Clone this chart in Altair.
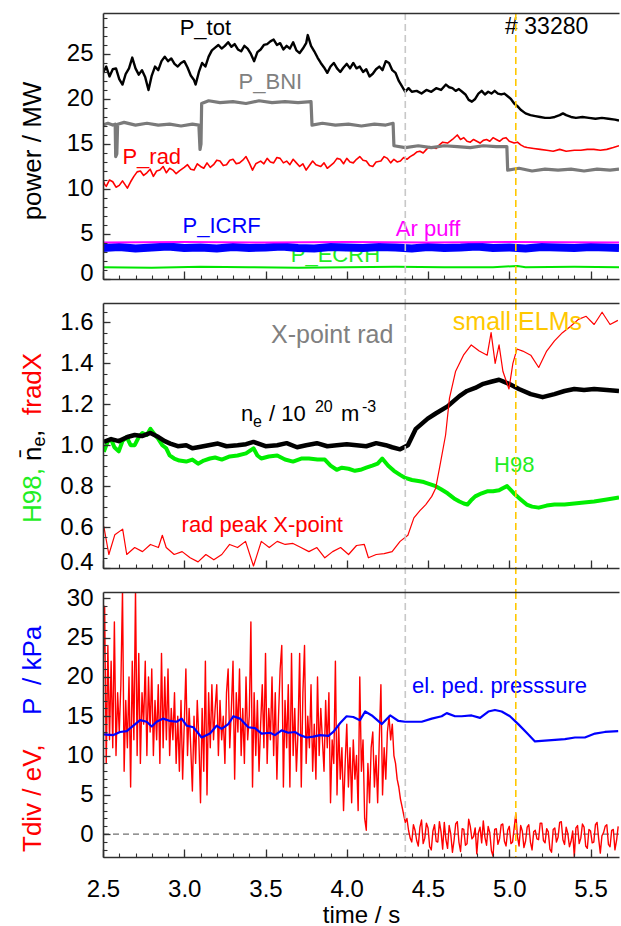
import altair as alt
import pandas as pd

# ---------------- data ----------------
x_domain = [2.5, 5.675]
x_major = [2.5, 3.0, 3.5, 4.0, 4.5, 5.0, 5.5]
x_minor = [2.5, 2.6, 2.7, 2.8, 2.9, 3.0, 3.1, 3.2, 3.3, 3.4, 3.5, 3.6, 3.7, 3.8, 3.9, 4.0,
           4.1, 4.2, 4.3, 4.4, 4.5, 4.6, 4.7, 4.8, 4.9, 5.0, 5.1, 5.2, 5.3, 5.4, 5.5, 5.6]
event_t = [4.36, 5.04]          # X-point rad onset, small ELMs onset

# panel 1: power / MW
p_tot = [(2.50,22.9),(2.52,23.6),(2.54,22.5),(2.56,23.3),(2.58,23.4),(2.60,22.2),(2.62,21.6),(2.64,22.8),
         (2.66,23.4),(2.68,24.6),(2.70,23.4),(2.72,22.7),(2.74,23.2),(2.76,22.4),(2.78,21.0),(2.80,22.6),
         (2.82,23.6),(2.84,23.2),(2.86,24.2),(2.88,24.7),(2.90,24.2),(2.92,24.5),(2.94,23.9),(2.96,23.6),
         (2.98,24.0),(3.00,24.2),(3.02,23.5),(3.04,22.6),(3.06,22.1),(3.07,21.6),(3.09,23.0),(3.11,24.0),
         (3.13,23.6),(3.15,24.7),(3.17,25.4),(3.19,25.7),(3.21,26.0),(3.23,25.6),(3.25,25.9),(3.27,26.3),
         (3.29,25.8),(3.31,26.1),(3.33,25.5),(3.35,25.3),(3.37,25.9),(3.39,25.6),(3.41,25.0),(3.43,24.2),
         (3.45,25.2),(3.47,25.5),(3.49,26.0),(3.51,26.1),(3.53,26.4),(3.55,26.6),(3.57,26.0),(3.59,26.2),
         (3.61,25.5),(3.63,25.9),(3.65,25.6),(3.67,26.3),(3.69,25.4),(3.71,25.1),(3.73,25.6),(3.75,26.2),
         (3.76,27.1),(3.78,25.9),(3.80,25.3),(3.82,24.6),(3.84,24.0),(3.86,23.5),(3.88,22.9),(3.90,23.6),
         (3.92,24.0),(3.94,23.4),(3.96,23.0),(3.98,23.5),(4.00,23.9),(4.02,23.4),(4.04,24.0),(4.06,23.4),
         (4.08,23.6),(4.10,23.0),(4.12,23.3),(4.14,22.5),(4.16,22.8),(4.18,23.3),(4.20,23.6),(4.22,23.2),
         (4.24,24.2),(4.26,24.0),(4.28,23.2),(4.30,22.9),(4.32,22.0),(4.34,21.4),(4.36,20.8),(4.38,21.2),
         (4.40,20.8),(4.43,20.9),(4.46,20.6),(4.49,21.0),(4.52,20.8),(4.55,21.2),(4.58,21.0),(4.61,21.6),
         (4.63,21.3),(4.65,21.2),(4.67,20.9),(4.69,21.1),(4.71,20.8),(4.73,20.5),(4.75,19.9),(4.77,19.7),
         (4.79,20.0),(4.81,20.6),(4.83,20.9),(4.85,20.5),(4.87,20.8),(4.89,20.6),(4.91,20.9),(4.93,20.6),
         (4.95,20.5),(4.97,20.6),(4.99,20.3),(5.01,20.0),(5.03,19.5),(5.05,19.2),(5.07,18.8),(5.10,18.4),
         (5.13,18.2),(5.16,18.1),(5.19,18.0),(5.22,17.9),(5.25,17.9),(5.28,18.0),(5.31,18.2),(5.33,18.4),
         (5.35,18.2),(5.38,18.0),(5.41,17.9),(5.45,18.0),(5.49,17.9),(5.53,17.8),(5.57,17.9),(5.61,17.8),
         (5.65,17.7),(5.675,17.6)]
p_bni = [(2.50,17.1),(2.53,17.3),(2.56,17.1),(2.575,17.2),(2.578,13.6),(2.585,13.9),(2.59,17.2),(2.63,17.4),
         (2.70,17.1),(2.77,17.3),(2.84,17.1),(2.91,17.2),(2.98,17.0),(3.05,17.2),(3.09,17.1),(3.097,14.4),
         (3.103,15.0),(3.107,19.5),(3.15,19.8),(3.22,19.6),(3.30,19.7),(3.38,19.5),(3.46,19.8),(3.54,19.6),
         (3.62,19.7),(3.70,19.6),(3.78,19.7),(3.786,17.1),(3.85,17.3),(3.93,17.1),(4.01,17.2),(4.09,17.0),
         (4.17,17.2),(4.24,17.1),(4.285,17.3),(4.29,14.8),(4.36,14.6),(4.44,14.8),(4.52,14.6),(4.60,14.8),
         (4.68,14.7),(4.76,14.6),(4.84,14.8),(4.92,14.7),(4.985,14.7),(4.99,12.1),(5.06,12.3),(5.14,12.0),
         (5.22,12.2),(5.30,12.1),(5.38,12.2),(5.46,12.0),(5.54,12.2),(5.62,12.1),(5.675,12.2)]
p_rad = [(2.50,11.0),(2.51,10.5),(2.52,10.3),(2.54,11.0),(2.56,10.8),(2.58,10.2),(2.60,10.4),(2.62,10.9),
         (2.65,10.1),(2.67,10.8),(2.69,11.4),(2.71,11.9),(2.73,12.0),(2.75,11.5),(2.77,11.8),(2.79,12.2),
         (2.81,11.4),(2.83,12.0),(2.85,12.1),(2.87,12.5),(2.89,11.8),(2.91,12.3),(2.93,12.1),(2.95,11.7),
         (2.97,12.0),(3.00,12.4),(3.02,12.7),(3.04,12.2),(3.06,12.1),(3.08,12.8),(3.10,12.5),(3.12,12.3),
         (3.14,12.9),(3.16,12.4),(3.18,12.7),(3.20,13.2),(3.22,13.1),(3.24,12.6),(3.26,12.7),(3.28,13.2),
         (3.30,13.3),(3.32,12.8),(3.34,12.9),(3.36,13.2),(3.38,13.6),(3.40,12.9),(3.42,12.1),(3.44,12.8),
         (3.47,13.1),(3.49,12.8),(3.51,13.4),(3.53,13.0),(3.55,12.9),(3.57,13.5),(3.59,13.4),(3.61,12.9),
         (3.63,13.1),(3.65,12.7),(3.67,13.3),(3.69,12.9),(3.71,12.5),(3.73,12.8),(3.75,12.1),(3.77,12.6),
         (3.79,13.1),(3.81,12.7),(3.84,12.5),(3.86,12.9),(3.88,12.3),(3.90,12.6),(3.92,12.9),(3.94,13.4),
         (3.96,13.3),(3.98,12.8),(4.00,13.4),(4.02,13.0),(4.04,12.9),(4.06,13.3),(4.08,13.6),(4.10,13.2),
         (4.12,13.1),(4.14,12.6),(4.16,12.5),(4.18,13.0),(4.21,13.1),(4.23,13.6),(4.25,13.4),(4.27,12.9),
         (4.29,13.3),(4.31,13.0),(4.33,13.1),(4.35,13.5),(4.37,13.3),(4.39,13.6),(4.41,13.8),(4.43,14.1),
         (4.45,14.2),(4.47,14.0),(4.49,14.4),(4.51,14.7),(4.53,14.6),(4.55,14.5),(4.57,14.9),(4.59,15.2),
         (4.62,15.1),(4.65,15.5),(4.68,16.0),(4.70,15.5),(4.72,15.7),(4.74,15.3),(4.76,15.2),(4.78,15.5),
         (4.80,15.3),(4.82,15.1),(4.84,15.4),(4.86,15.5),(4.88,15.3),(4.90,15.7),(4.92,15.5),(4.94,15.3),
         (4.96,15.6),(4.98,15.7),(5.00,15.3),(5.03,15.1),(5.05,15.2),(5.07,14.9),(5.09,14.7),(5.11,14.6),
         (5.15,14.5),(5.19,14.4),(5.23,14.3),(5.27,14.2),(5.31,14.4),(5.35,14.2),(5.40,14.3),(5.44,14.3),
         (5.48,14.4),(5.52,14.4),(5.56,14.3),(5.60,14.4),(5.64,14.6),(5.675,14.8)]
p_icrf = [(2.5,3.45),(2.6,3.55),(2.7,3.4),(2.8,3.5),(2.9,3.6),(3.0,3.45),(3.1,3.5),(3.2,3.4),(3.3,3.55),
          (3.4,3.45),(3.5,3.5),(3.6,3.6),(3.7,3.45),(3.8,3.4),(3.9,3.55),(4.0,3.5),(4.1,3.45),(4.2,3.55),
          (4.3,3.5),(4.4,3.4),(4.5,3.55),(4.6,3.45),(4.7,3.5),(4.8,3.6),(4.9,3.45),(5.0,3.5),(5.1,3.4),
          (5.2,3.55),(5.3,3.5),(5.4,3.45),(5.5,3.55),(5.6,3.5),(5.675,3.45)]
ar_puff = [(2.5,4.05),(3.0,4.1),(3.5,4.05),(4.0,4.1),(4.5,4.05),(5.0,4.1),(5.675,4.05)]
p_ecrh = [(2.5,1.3),(2.8,1.25),(3.1,1.35),(3.4,1.3),(3.7,1.25),(4.0,1.3),(4.3,1.35),(4.6,1.3),
          (4.9,1.3),(5.05,1.45),(5.1,1.3),(5.4,1.35),(5.675,1.3)]

# panel 2: H98, line density, fradX
n_e = [(2.505,1.016),(2.55,1.03),(2.597,1.02),(2.65,1.04),(2.695,1.05),(2.74,1.045),(2.792,1.06),
       (2.841,1.04),(2.88,1.02),(2.914,1.008),(2.96,0.995),(3.012,1.0),(3.05,0.985),(3.085,0.99),
       (3.15,1.0),(3.207,1.008),(3.26,0.995),(3.328,1.0),(3.38,1.005),(3.426,1.016),(3.5,0.995),
       (3.572,1.0),(3.63,1.01),(3.694,0.99),(3.75,1.0),(3.816,1.01),(3.88,0.995),(3.938,1.0),
       (4.0,1.005),(4.06,1.0),(4.12,0.995),(4.181,1.01),(4.24,1.0),(4.279,0.99),(4.328,0.98),
       (4.376,1.0),(4.425,1.08),(4.498,1.13),(4.547,1.155),(4.62,1.19),(4.693,1.24),(4.74,1.265),
       (4.79,1.28),(4.84,1.30),(4.888,1.31),(4.937,1.32),(4.998,1.30),(5.059,1.275),(5.132,1.25),
       (5.205,1.235),(5.278,1.25),(5.34,1.265),(5.4,1.275),(5.46,1.27),(5.522,1.275),(5.6,1.27),
       (5.675,1.265)]
h98 = [(2.505,0.968),(2.53,1.02),(2.549,1.03),(2.57,0.99),(2.597,0.97),(2.62,1.02),(2.646,1.04),
       (2.67,1.0),(2.695,1.0),(2.72,1.04),(2.743,1.06),(2.77,1.05),(2.792,1.08),(2.82,1.05),
       (2.841,1.03),(2.865,1.0),(2.889,0.985),(2.91,0.95),(2.938,0.935),(2.97,0.925),(3.012,0.92),
       (3.05,0.93),(3.085,0.91),(3.12,0.925),(3.158,0.935),(3.19,0.94),(3.231,0.93),(3.28,0.945),
       (3.328,0.95),(3.38,0.96),(3.426,0.985),(3.45,0.95),(3.474,0.935),(3.52,0.945),(3.572,0.95),
       (3.62,0.93),(3.669,0.92),(3.72,0.935),(3.767,0.935),(3.82,0.93),(3.865,0.93),(3.90,0.9),
       (3.938,0.88),(3.97,0.89),(4.011,0.885),(4.05,0.875),(4.084,0.88),(4.12,0.89),(4.157,0.90),
       (4.19,0.91),(4.218,0.935),(4.255,0.90),(4.29,0.875),(4.328,0.855),(4.36,0.84),(4.401,0.83),
       (4.44,0.825),(4.474,0.82),(4.51,0.81),(4.547,0.80),(4.58,0.785),(4.62,0.765),(4.66,0.74),
       (4.693,0.725),(4.72,0.715),(4.742,0.71),(4.77,0.735),(4.79,0.75),(4.83,0.765),(4.864,0.775),
       (4.90,0.775),(4.937,0.78),(4.96,0.79),(4.986,0.80),(5.01,0.78),(5.034,0.76),(5.07,0.735),
       (5.107,0.71),(5.14,0.70),(5.181,0.695),(5.23,0.705),(5.278,0.71),(5.34,0.71),(5.4,0.715),
       (5.46,0.72),(5.522,0.725),(5.6,0.735),(5.675,0.745)]
frad_x = [(2.505,0.604),(2.536,0.466),(2.573,0.563),(2.621,0.59),(2.646,0.466),(2.695,0.50),(2.743,0.48),
          (2.792,0.515),(2.841,0.50),(2.865,0.56),(2.889,0.50),(2.938,0.466),(2.987,0.48),(3.036,0.45),
          (3.085,0.43),(3.133,0.466),(3.182,0.44),(3.231,0.466),(3.279,0.515),(3.328,0.50),(3.377,0.53),
          (3.426,0.41),(3.474,0.53),(3.523,0.50),(3.572,0.53),(3.621,0.515),(3.669,0.52),(3.718,0.50),
          (3.767,0.48),(3.816,0.50),(3.865,0.45),(3.913,0.48),(3.962,0.50),(4.011,0.466),(4.06,0.51),
          (4.108,0.515),(4.133,0.45),(4.181,0.466),(4.23,0.47),(4.279,0.48),(4.328,0.53),(4.376,0.56),
          (4.413,0.645),(4.45,0.68),(4.486,0.71),(4.523,0.75),(4.547,0.79),(4.571,0.89),(4.608,1.05),
          (4.632,1.23),(4.669,1.36),(4.718,1.44),(4.766,1.49),(4.815,1.46),(4.864,1.44),(4.888,1.55),
          (4.913,1.40),(4.937,1.49),(4.961,1.36),(4.998,1.275),(5.022,1.40),(5.047,1.47),(5.083,1.46),
          (5.132,1.44),(5.181,1.38),(5.23,1.46),(5.278,1.51),(5.327,1.55),(5.376,1.58),(5.425,1.615),
          (5.473,1.63),(5.522,1.59),(5.571,1.65),(5.62,1.59),(5.668,1.61)]

# panel 3: divertor temperature (sampled every 10 ms) and pedestal pressure
tdiv_a_start, tdiv_a_step = 2.50, 0.01
tdiv_a = [20, 29, 9, 24, 12, 22, 11, 27, 10, 18,
          13, 19, 31, 8, 17, 11, 20, 6, 22, 12,
          31, 10, 23, 9, 18, 14, 22, 10, 20, 13,
          21, 10, 17, 12, 19, 9, 23, 11, 20, 12,
          21, 10, 16, 12, 18, 9, 15, 8, 17, 7,
          14, 21, 10, 16, 11, 5.5, 15, 9, 17, 12,
          4, 16, 8, 22, 5, 18, 11, 19, 12, 16,
          19, 10, 17, 12, 15, 9, 18, 21, 11, 16,
          22, 7, 18, 13, 21, 10, 16, 9, 20, 12,
          15, 27, 6, 18, 10, 17, 8, 14, 19, 11,
          23, 9, 16, 12, 20, 10, 18, 7, 15, 21,
          24, 6, 17, 11, 19, 6, 23, 10, 16, 8,
          13, 23, 6, 18, 24, 9, 15, 11, 19, 8,
          14, 7, 20, 10, 16, 12, 8, 17, 11, 18,
          4, 12, 9, 22, 5, 14, 7, 11, 3, 9,
          14, 6, 11, 4, 12, 7, 10, 3, 20, 8,
          12, 2, 0.5, 9, 4, 11, 13, 6, 10, 4,
          12, 19, 5, 11, 7, 13, 15, 12, 14, 10,
          9, 7, 6, 4.5, 3.5, 2.5, 1.5, 2, 0.5, -0.5]
tdiv_b_start, tdiv_b_step = 4.40, 0.01
tdiv_b = [-1.0, 1.2, 0.5, -0.8, -1.5, 0.9, 1.8, -1.2, -0.5, 1.4,
          0.8, -1.6, -2.0, 0.4, 1.2, -0.9, -1.0, 1.6, 0.3, -1.9,
          1.5, -0.7, -1.8, 1.1, 0.0, -2.3, -0.8, 1.3, 1.6, -1.0,
          -2.2, 0.7, 0.6, -1.4, -1.2, 1.9, 1.0, -0.6, -0.3, 0.8,
          -2.5, 0.2, 0.9, -1.1, 1.7, -0.4, -1.4, 1.0, 0.2, -2.1,
          -2.8, 0.6, 0.7, -1.3, -0.6, 1.2, 1.3, -0.9, -1.5, 0.5,
          1.0, -1.2, -1.0, 0.8, 2.6, -0.3, -1.5, 1.1, 0.4, -1.7,
          -0.9, 0.9, 1.2, -1.0, -2.0, 0.3, 0.5, -0.6, -0.7, 1.4,
          1.4, -0.8, -1.1, 0.7, 0.3, -1.9, -2.3, 0.6, 0.8, -1.0,
          -0.4, 1.5, 1.6, -0.7, -1.3, 0.9, 0.1, -1.6, -0.9, 0.4,
          -2.9, 0.8, 1.1, -1.2, -0.5, 1.3, 0.9, -1.5, -1.8, 0.6,
          0.4, -1.1, -1.0, 1.2, 1.5, -0.6, -2.4, -0.2, 0.2, 1.0,
          1.2, -1.3, -1.6, 0.5, 0.6, -2.0, -0.8, 1.0]
p_ped = [(2.502,12.7),(2.564,12.6),(2.605,13.0),(2.646,13.1),(2.687,13.8),(2.728,14.5),(2.769,14.3),
         (2.80,13.7),(2.83,14.3),(2.871,14.7),(2.912,14.4),(2.953,14.3),(2.984,14.7),(3.015,13.8),
         (3.056,13.6),(3.107,12.3),(3.158,12.8),(3.199,13.8),(3.23,13.4),(3.271,14.0),(3.302,15.0),
         (3.343,14.7),(3.394,13.6),(3.435,13.5),(3.476,12.8),(3.528,12.9),(3.558,12.6),(3.599,13.2),
         (3.64,12.9),(3.681,13.0),(3.712,12.6),(3.753,12.3),(3.794,12.4),(3.835,12.6),(3.887,12.5),
         (3.917,13.0),(3.958,14.1),(3.999,15.0),(4.04,14.9),(4.081,14.5),(4.113,15.6),(4.154,15.1),
         (4.216,14.0),(4.267,15.1),(4.318,14.4),(4.359,14.3),(4.42,14.3),(4.461,14.3),(4.523,14.7),
         (4.584,15.0),(4.615,15.4),(4.666,15.0),(4.707,15.0),(4.768,15.1),(4.82,14.8),(4.871,15.6),
         (4.912,15.8),(4.953,15.6),(5.004,15.0),(5.055,14.0),(5.107,12.9),(5.158,11.8),(5.219,11.9),
         (5.281,12.0),(5.342,12.1),(5.404,12.3),(5.465,12.3),(5.527,12.8),(5.588,13.0),(5.67,13.1)]

# annotations (text, time, value) in data coordinates
p1_notes = [("P_tot", 3.13, 27.9), ("P_BNI", 3.53, 21.9), ("P_rad", 2.80, 13.6),
            ("P_ICRF", 3.23, 5.85), ("Ar puff", 4.50, 5.5), ("P_ECRH", 3.93, 2.7),
            ("# 33280", 5.23, 28.05)]
p2_notes = [("X-point rad", 3.91, 1.54), ("small ELMs", 5.05, 1.60), ("H98", 5.03, 0.905),
            ("rad peak X-point", 3.48, 0.612)]
ne_label = [("n", 3.349, 1.117), ("e", 3.423, 1.09), ("/ 10", 3.521, 1.117),
            ("20", 3.804, 1.164), ("m", 3.964, 1.117), ("-3", 4.093, 1.164)]
p3_notes = [("el. ped. presssure", 4.94, 18.8)]

# ---------------- styling / layout ----------------
FONT = "Liberation Sans"
W = 516
H1, H2, H3 = 266, 265, 265
GAP = 24
AXC = "#303030"
RED, BLUE, GREEN, GRAY = "#ff0000", "#0000ff", "#00e600", "#808080"
MAGENTA, GOLD = "#ff00ff", "#ffc800"

XS = alt.Scale(domain=x_domain, nice=False, zero=False)
YS1 = alt.Scale(domain=[0, 29.55], nice=False, zero=False)
YS2 = alt.Scale(domain=[0.4, 1.695], nice=False, zero=False)
YS3 = alt.Scale(domain=[-2.9, 30.8], nice=False, zero=False)


def ax_bottom_border(labels=False):
    kw = dict(orient="bottom", domain=True, domainColor=AXC, domainWidth=1.6, ticks=False,
              tickSize=0, grid=False, zindex=1)
    if labels:
        kw.update(labels=True, values=x_major, format=".1f", labelFont=FONT, labelFontSize=24,
                  labelColor="#000", labelPadding=20, labelFlush=False, title="time / s",
                  titleFont=FONT, titleFontSize=24, titleFontWeight="normal", titleColor="#000",
                  titlePadding=2)
    else:
        kw.update(labels=False, title=None)
    return alt.Axis(**kw)


AX_TOP = alt.Axis(orient="top", domain=True, domainColor=AXC, domainWidth=1.6, ticks=False,
                  tickSize=0, labels=False, grid=False, title=None, zindex=1)
AX_XMAJ = alt.Axis(orient="bottom", offset=-8, tickSize=8, values=x_major, domain=False,
                   labels=False, grid=False, title=None, tickColor=AXC, tickWidth=1.3, zindex=1)
AX_XMIN = alt.Axis(orient="bottom", offset=-4, tickSize=4, values=x_minor, domain=False,
                   labels=False, grid=False, title=None, tickColor=AXC, tickWidth=1.1, zindex=1)


def ax_left(values, fmt):
    return alt.Axis(orient="left", domain=True, domainColor=AXC, domainWidth=1.6, ticks=False,
                    tickSize=0, values=values, format=fmt, labelFont=FONT, labelFontSize=24,
                    labelColor="#000", labelPadding=10, labelFlush=True, labelFlushOffset=6,
                    grid=False, title=None, zindex=1)


def ax_ymaj(values):
    return alt.Axis(orient="left", offset=-7, tickSize=7, values=values, domain=False,
                    labels=False, grid=False, title=None, tickColor=AXC, tickWidth=1.3, zindex=1)


def ax_ymin(values):
    return alt.Axis(orient="left", offset=-4, tickSize=4, values=values, domain=False,
                    labels=False, grid=False, title=None, tickColor=AXC, tickWidth=1.1, zindex=1)


def line(pairs, ys, color, width, xaxis=None, yaxis=None):
    df = pd.DataFrame(pairs, columns=["t", "v"])
    return alt.Chart(df).mark_line(color=color, strokeWidth=width, clip=True,
                                   strokeJoin="round").encode(
        x=alt.X("t:Q", scale=XS, axis=xaxis), y=alt.Y("v:Q", scale=ys, axis=yaxis))


def note(s, t, v, ys, color, size, align="center", baseline="middle"):
    df = pd.DataFrame({"t": [t], "v": [v], "s": [s]})
    return alt.Chart(df).mark_text(font=FONT, fontSize=size, color=color, align=align,
                                   baseline=baseline).encode(
        x=alt.X("t:Q", scale=XS, axis=None), y=alt.Y("v:Q", scale=ys, axis=None), text="s:N")


def px_text(s, x, y, color, size, align="left", angle=270, baseline="middle"):
    return alt.Chart(pd.DataFrame({"s": [s]})).mark_text(
        font=FONT, fontSize=size, color=color, angle=angle, align=align, baseline=baseline
    ).encode(x=alt.value(x), y=alt.value(y), text="s:N")


def events(h_ext):
    out = []
    for t, col in zip(event_t, ["#c8c8c8", GOLD]):
        out.append(alt.Chart(pd.DataFrame({"t": [t]})).mark_rule(
            color=col, strokeWidth=1.6, strokeDash=[7, 4], clip=False).encode(
            x=alt.X("t:Q", scale=XS, axis=None), y=alt.value(0), y2=alt.value(h_ext)))
    return out


TX = -70  # x position of the rotated y titles, left of the plot

# ---------------- panel 1 ----------------
n1 = {k: (t, v) for k, t, v in p1_notes}
panel1 = alt.layer(
    note("P_ECRH", *n1["P_ECRH"], YS1, "#22ee22", 22),
    line(p_icrf, YS1, BLUE, 8, xaxis=AX_TOP),
    line(ar_puff, YS1, MAGENTA, 2),
    line(p_ecrh, YS1, GREEN, 2),
    line(p_rad, YS1, RED, 1.6, xaxis=AX_XMIN, yaxis=ax_ymin(list(range(0, 30)))),
    line(p_bni, YS1, "#7a7a7a", 3.2, xaxis=AX_XMAJ, yaxis=ax_ymaj([0, 5, 10, 15, 20, 25])),
    line(p_tot, YS1, "#000000", 2.4, xaxis=ax_bottom_border(),
         yaxis=ax_left([0, 5, 10, 15, 20, 25], "d")),
    note("P_tot", *n1["P_tot"], YS1, "#000000", 22),
    note("P_BNI", *n1["P_BNI"], YS1, GRAY, 22),
    note("P_rad", *n1["P_rad"], YS1, RED, 22),
    note("P_ICRF", *n1["P_ICRF"], YS1, BLUE, 22),
    note("Ar puff", *n1["Ar puff"], YS1, MAGENTA, 22),
    note("# 33280", *n1["# 33280"], YS1, "#000000", 23),
    px_text("power / MW", TX, 138, "#000000", 26, align="center"),
    *events(H1 + GAP),
).resolve_axis(x="independent", y="independent").properties(width=W, height=H1)

# ---------------- panel 2 ----------------
n2 = {k: (t, v) for k, t, v in p2_notes}
ne_parts = []
for (s, t, v), size in zip(ne_label, [22, 16, 22, 16, 22, 16]):
    ne_parts.append(note(s, t, v, YS2, "#000000", size, align="left", baseline="alphabetic"))
y2_minor = [round(0.4 + 0.05 * i, 2) for i in range(26)]
y2_major = [0.4, 0.6, 0.8, 1.0, 1.2, 1.4, 1.6]
panel2 = alt.layer(
    line(h98, YS2, "#00ee00", 4, xaxis=AX_TOP),
    line(n_e, YS2, "#000000", 4.5, xaxis=AX_XMIN, yaxis=ax_ymin(y2_minor)),
    line(frad_x, YS2, RED, 1.2, xaxis=AX_XMAJ, yaxis=ax_ymaj(y2_major)),
    line([(2.5, 0.0)], YS2, "#ffffff", 0, xaxis=ax_bottom_border(),
         yaxis=ax_left(y2_major, ".1f")),
    note("X-point rad", *n2["X-point rad"], YS2, GRAY, 25),
    note("small ELMs", *n2["small ELMs"], YS2, GOLD, 25),
    note("H98", *n2["H98"], YS2, "#22ee22", 22),
    note("rad peak X-point", *n2["rad peak X-point"], YS2, RED, 22),
    *ne_parts,
    px_text("H98,", TX, 220, "#22ee22", 26),
    px_text("n\u0304", TX, 158, "#000000", 26),
    px_text("e", TX + 7, 143.5, "#000000", 18),
    px_text(" ,", TX, 134, "#000000", 26),
    px_text("fradX", TX, 112, RED, 26),
    *events(H2 + GAP),
).resolve_axis(x="independent", y="independent").properties(width=W, height=H2)

# ---------------- panel 3 ----------------
tdiv = ([(round(tdiv_a_start + tdiv_a_step * i, 3), v) for i, v in enumerate(tdiv_a)]
        + [(round(tdiv_b_start + tdiv_b_step * i, 3), v) for i, v in enumerate(tdiv_b)])
n3 = {k: (t, v) for k, t, v in p3_notes}
zero_line = alt.Chart(pd.DataFrame({"v": [0.0]})).mark_rule(
    color="#707070", strokeWidth=1.2, strokeDash=[6, 4]).encode(
    y=alt.Y("v:Q", scale=YS3, axis=None))
panel3 = alt.layer(
    zero_line,
    line(tdiv, YS3, RED, 1.4, xaxis=ax_bottom_border(labels=True),
         yaxis=ax_left([0, 5, 10, 15, 20, 25, 30], "d")),
    line(p_ped, YS3, BLUE, 2.2, xaxis=AX_XMAJ, yaxis=ax_ymaj([0, 5, 10, 15, 20, 25, 30])),
    line([(2.5, -10.0)], YS3, "#ffffff", 0, xaxis=AX_XMIN, yaxis=ax_ymin(list(range(-2, 31)))),
    line([(2.5, -10.0)], YS3, "#ffffff", 0, xaxis=AX_TOP),
    note("el. ped. presssure", *n3["el. ped. presssure"], YS3, BLUE, 22),
    px_text("Tdiv / eV,", TX, 260, RED, 26),
    px_text("P", TX, 123, BLUE, 26),
    px_text("/ kPa", TX, 93, BLUE, 26),
    *events(H3),
).resolve_axis(x="independent", y="independent").properties(width=W, height=H3)

chart = alt.vconcat(panel1, panel2, panel3, spacing=GAP, bounds="flush").properties(
    padding={"left": 20, "top": 12, "right": 0, "bottom": 0}
).configure_view(stroke=None).configure_axis(labelFont=FONT, titleFont=FONT)

chart.save("out.html", embed_options={"renderer": "svg", "actions": False})
